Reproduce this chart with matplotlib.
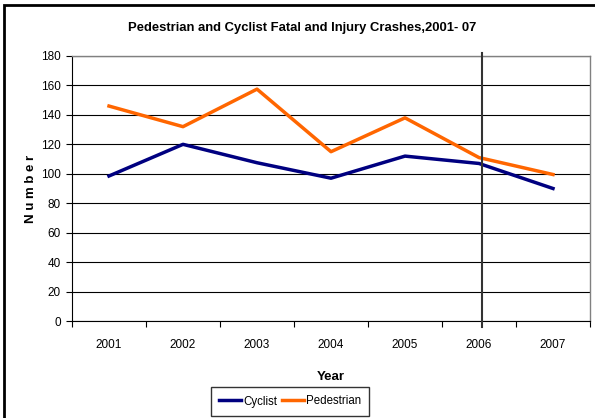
import matplotlib.pyplot as plt
from matplotlib.patches import Rectangle
import numpy as np

years = ["2001", "2002", "2003", "2004", "2005", "2006", "2007"]
cyclist = [98.5, 120, 107.5, 97, 112, 107, 90]
pedestrian = [146, 132, 157.5, 115, 138, 111, 99.5]

plt.rcParams['font.family'] = ['Liberation Sans', 'DejaVu Sans']

fig = plt.figure(figsize=(5.95, 4.18), dpi=100)
ax = fig.add_axes([72 / 595, 1 - 321 / 418, (590 - 72) / 595, (321 - 56) / 418])

x = np.arange(len(years))
ax.plot(x, cyclist, color='#000080', lw=2.5, label='Cyclist')
ax.plot(x, pedestrian, color='#FF6600', lw=2.5, label='Pedestrian')

ax.set_xlim(-0.5, len(years) - 0.5)
ax.set_ylim(0, 180)
ax.set_yticks(range(0, 181, 20))
ax.yaxis.grid(True, color='black', lw=0.8)
ax.set_axisbelow(True)

ax.set_xticks(x)
ax.set_xticklabels(years, fontsize=8.5)
ax.set_xticks(np.arange(-0.5, len(years), 1), minor=True)
ax.tick_params(axis='x', which='major', length=0, pad=13)
ax.tick_params(axis='x', which='minor', length=4, width=0.8)
ax.tick_params(axis='y', length=4, width=0.8, labelsize=8.5, pad=4)

for s in ['top', 'right']:
    ax.spines[s].set_color('#808080')
    ax.spines[s].set_linewidth(1)
for s in ['left', 'bottom']:
    ax.spines[s].set_color('black')
    ax.spines[s].set_linewidth(0.8)

# vertical marker line at 2006
ax.plot([5.04, 5.04], [-4, 182], color='#333333', lw=1.5, clip_on=False, zorder=3)

ax.set_xlabel('Year', fontsize=9.5, fontweight='bold', labelpad=14)
ax.set_ylabel('N u m b e r', fontsize=9.5, fontweight='bold', labelpad=3)
fig.text(302 / 595, 1 - 28 / 418, 'Pedestrian and Cyclist Fatal and Injury Crashes,2001- 07',
         ha='center', va='center', fontsize=9.4, fontweight='bold')

leg = fig.legend(loc='center', bbox_to_anchor=(290 / 595, 1 - 401.5 / 418), ncol=2,
                 fontsize=8.3, frameon=True, fancybox=False, handlelength=1.9,
                 handletextpad=0.2, columnspacing=0.4, borderpad=0.7, borderaxespad=0)
leg.get_frame().set_edgecolor('black')
leg.get_frame().set_linewidth(1)

# outer chart border (cut at right and bottom)
fig.patches.append(Rectangle((4 / 595, -0.1), 1.2, 1 - 5 / 418 + 0.1,
                             transform=fig.transFigure, fill=False,
                             edgecolor='black', lw=2))

fig.savefig('out.png', dpi=100)
